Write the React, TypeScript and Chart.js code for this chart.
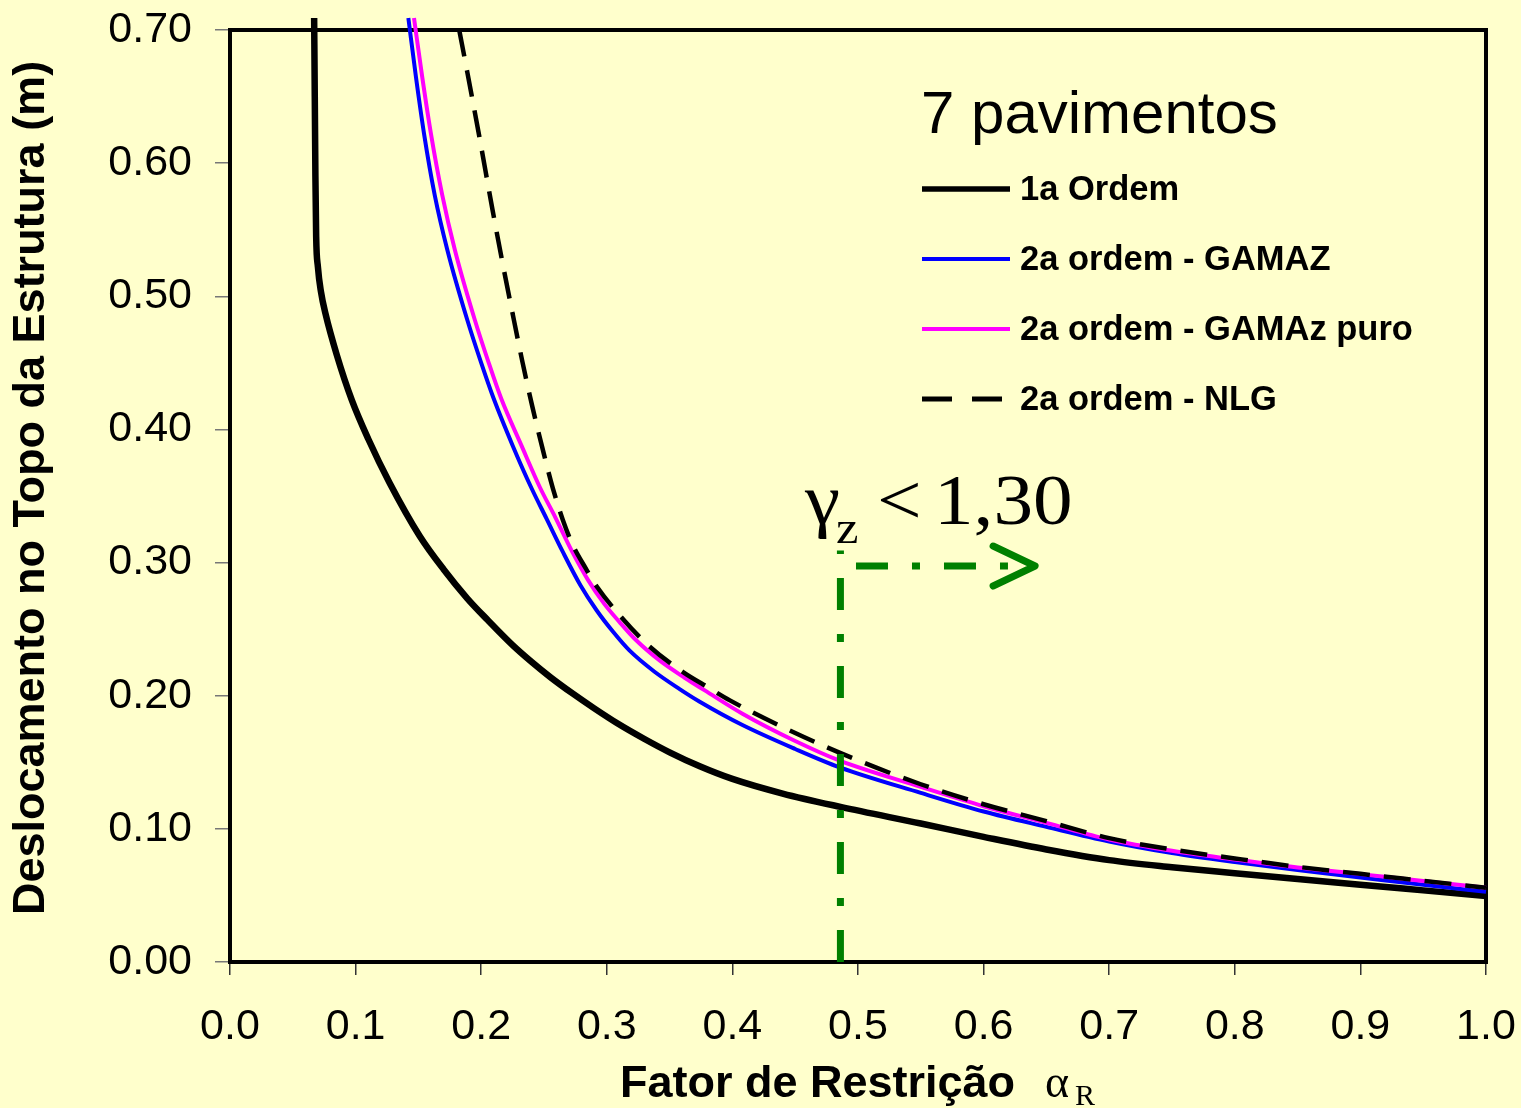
import React, { useEffect, useRef } from "react";
import { Chart, registerables } from "chart.js";

Chart.register(...registerables);

const BG = "#FFFFCC";

// ---- data (x = fator de restrição αR, y = deslocamento no topo em m) ----
const ordem1X = [0.067, 0.0675, 0.068, 0.0686, 0.07, 0.0725, 0.076, 0.085, 0.097, 0.11, 0.127, 0.151, 0.17, 0.189, 0.205, 0.225, 0.24, 0.255, 0.273, 0.29, 0.308, 0.33, 0.35, 0.374, 0.4, 0.44, 0.486, 0.55, 0.6, 0.65, 0.7, 0.75, 0.8, 0.85, 0.9, 0.95, 1.0];
const ordem1Y = [0.709, 0.65, 0.59, 0.545, 0.522, 0.503, 0.487, 0.456, 0.422, 0.393, 0.36, 0.32, 0.295, 0.273, 0.257, 0.238, 0.2255, 0.214, 0.2015, 0.1905, 0.1795, 0.1675, 0.1575, 0.147, 0.1375, 0.1265, 0.1165, 0.104, 0.094, 0.0845, 0.0765, 0.0712, 0.0667, 0.0623, 0.058, 0.0538, 0.0496];

const gamazX = [0.142, 0.148, 0.1545, 0.163, 0.173, 0.189, 0.2, 0.21, 0.225, 0.24, 0.252, 0.265, 0.279, 0.292, 0.305, 0.318, 0.338, 0.358, 0.374, 0.408, 0.45, 0.486, 0.55, 0.6, 0.65, 0.7, 0.75, 0.8, 0.85, 0.9, 0.95, 1.0];
const gamazY = [0.709, 0.665, 0.622, 0.576, 0.535, 0.482, 0.45, 0.423, 0.388, 0.356, 0.333, 0.308, 0.283, 0.264, 0.248, 0.234, 0.218, 0.205, 0.1955, 0.178, 0.16, 0.146, 0.127, 0.113, 0.1015, 0.0905, 0.0818, 0.075, 0.069, 0.0635, 0.058, 0.0528];

const gamazPuroX = [0.1465, 0.153, 0.16, 0.169, 0.179, 0.195, 0.206, 0.216, 0.232, 0.247, 0.259, 0.272, 0.285, 0.298, 0.31, 0.323, 0.342, 0.362, 0.378, 0.408, 0.45, 0.486, 0.55, 0.6, 0.65, 0.7, 0.75, 0.8, 0.85, 0.9, 0.95, 1.0];
const gamazPuroY = [0.709, 0.665, 0.622, 0.576, 0.535, 0.482, 0.45, 0.423, 0.388, 0.356, 0.334, 0.309, 0.287, 0.269, 0.2555, 0.242, 0.2265, 0.2135, 0.204, 0.1865, 0.166, 0.151, 0.1315, 0.117, 0.1045, 0.092, 0.0835, 0.077, 0.071, 0.066, 0.0608, 0.0558];

const nlgX = [0.1825, 0.189, 0.1985, 0.209, 0.217, 0.225, 0.233, 0.241, 0.249, 0.257, 0.265, 0.273, 0.283, 0.292, 0.313, 0.334, 0.361, 0.382, 0.398, 0.45, 0.5, 0.55, 0.6, 0.65, 0.7, 0.75, 0.8, 0.85, 0.9, 0.95, 1.0];
const nlgY = [0.7, 0.668, 0.62, 0.565, 0.525, 0.487, 0.45, 0.416, 0.385, 0.356, 0.332, 0.313, 0.296, 0.282, 0.2575, 0.237, 0.2175, 0.2055, 0.1965, 0.172, 0.1515, 0.1335, 0.1185, 0.1058, 0.093, 0.0845, 0.0778, 0.0715, 0.0662, 0.061, 0.0558];

const seriesLabels = ["1a Ordem", "2a ordem - GAMAZ", "2a ordem - GAMAz puro", "2a ordem - NLG"];

const chartTitle = "7 pavimentos";
const xAxisTitle = "Fator de Restrição";
const xAxisSymbol = "α";
const xAxisSub = "R";
const yAxisTitle = "Deslocamento no Topo da Estrutura (m)";

const xMin = 0;
const xMax = 1.0;
const xStep = 0.1;
const yMin = 0;
const yMax = 0.7;
const yStep = 0.1;

// annotation (γz < 1,30 limit)
const limitX = 0.486;
const limitTopY = 0.309;
const arrowY = 0.2974;
const arrowStartX = 0.4984;
const arrowEndX = 0.6194;
const arrowTipX = 0.641;
const limitSymbol = "γ";
const limitSub = "z";
const limitRel = "<";
const limitValue = "1,30";

const pts = (xs: number[], ys: number[]) => xs.map((x, i) => ({ x, y: ys[i] }));

const extrasPlugin = {
  id: "extras",
  beforeDraw(chart: any) {
    const { ctx, width, height } = chart;
    ctx.save();
    ctx.fillStyle = BG;
    ctx.fillRect(0, 0, width, height);
    ctx.restore();
  },
  beforeDatasetsDraw(chart: any) {
    const { ctx, chartArea: a } = chart;
    ctx.save();
    ctx.strokeStyle = "#000";
    ctx.lineWidth = 4;
    ctx.strokeRect(a.left, a.top, a.right - a.left, a.bottom - a.top);
    ctx.restore();
  },
  afterDraw(chart: any) {
    const { ctx } = chart;
    const xs = chart.scales.x;
    const ys = chart.scales.y;
    ctx.save();

    // green dash-dot limit line
    const green = "#008000";
    ctx.strokeStyle = green;
    ctx.lineWidth = 7;
    ctx.lineCap = "butt";
    ctx.setLineDash([32, 24, 8, 24]);
    const lx = xs.getPixelForValue(limitX);
    ctx.beginPath();
    ctx.moveTo(lx, ys.getPixelForValue(0));
    ctx.lineTo(lx, ys.getPixelForValue(limitTopY));
    ctx.stroke();
    const ay = ys.getPixelForValue(arrowY);
    ctx.beginPath();
    ctx.moveTo(xs.getPixelForValue(arrowStartX), ay);
    ctx.lineTo(xs.getPixelForValue(arrowEndX), ay);
    ctx.stroke();
    ctx.setLineDash([]);
    ctx.lineCap = "round";
    ctx.lineJoin = "round";
    const tx = xs.getPixelForValue(arrowTipX);
    ctx.beginPath();
    ctx.moveTo(tx - 42, ay - 20);
    ctx.lineTo(tx, ay);
    ctx.lineTo(tx - 42, ay + 20);
    ctx.stroke();

    // γz < 1,30 text
    ctx.fillStyle = "#000";
    ctx.textBaseline = "alphabetic";
    ctx.textAlign = "left";
    const drawStretched = (text: string, x: number, y: number, font: string, sx: number) => {
      ctx.save();
      ctx.translate(x, y);
      ctx.scale(sx, 1);
      ctx.font = font;
      ctx.fillText(text, 0, 0);
      ctx.restore();
    };
    drawStretched(limitSymbol, 805, 524, "72px 'Liberation Serif'", 1.1);
    drawStretched(limitSub, 836, 543, "46px 'Liberation Serif'", 1.1);
    drawStretched(limitRel, 877, 524, "72px 'Liberation Serif'", 1.1);
    drawStretched(limitValue, 934, 524, "72px 'Liberation Serif'", 1.1);

    // title
    ctx.font = "60px 'Liberation Sans'";
    ctx.fillText(chartTitle, 921, 133);

    // legend
    const lx0 = 922;
    const lx1 = 1010;
    chart.data.datasets.forEach((ds: any, i: number) => {
      const y = 189 + i * 70;
      const dashed = ds.borderDash && ds.borderDash.length;
      ctx.save();
      ctx.strokeStyle = ds.borderColor;
      ctx.lineWidth = ds.legendWidth;
      ctx.lineCap = "butt";
      ctx.setLineDash(dashed ? [30, 20] : []);
      ctx.beginPath();
      ctx.moveTo(lx0, y);
      ctx.lineTo(dashed ? 1002 : lx1, y);
      ctx.stroke();
      ctx.restore();
      ctx.font = "bold 34.5px 'Liberation Sans'";
      ctx.fillStyle = "#000";
      ctx.textBaseline = "middle";
      ctx.fillText(ds.label, 1020, y + 1);
    });

    // axis titles
    ctx.textBaseline = "alphabetic";
    ctx.font = "bold 45px 'Liberation Sans'";
    ctx.fillText(xAxisTitle, 620, 1097);
    ctx.font = "46px 'Liberation Serif'";
    ctx.fillText(xAxisSymbol, 1045, 1097);
    ctx.font = "30px 'Liberation Serif'";
    ctx.fillText(xAxisSub, 1075, 1105);

    ctx.save();
    ctx.translate(32, 488);
    ctx.rotate(-Math.PI / 2);
    ctx.font = "bold 45px 'Liberation Sans'";
    ctx.textAlign = "center";
    ctx.textBaseline = "middle";
    ctx.fillText(yAxisTitle, 0, 0);
    ctx.restore();

    ctx.restore();
  },
};

export default function App() {
  const ref = useRef<HTMLCanvasElement | null>(null);

  useEffect(() => {
    if (!ref.current) return;
    const common = {
      pointRadius: 0,
      cubicInterpolationMode: "monotone" as const,
      clip: false as const,
      fill: false,
    };
    const chart = new Chart(ref.current, {
      type: "line",
      data: {
        datasets: [
          { ...common, label: seriesLabels[0], data: pts(ordem1X, ordem1Y), borderColor: "#000000", borderWidth: 6.5, legendWidth: 5.5, order: 4 } as any,
          { ...common, label: seriesLabels[1], data: pts(gamazX, gamazY), borderColor: "#0000FF", borderWidth: 4, legendWidth: 4, order: 3 } as any,
          { ...common, label: seriesLabels[2], data: pts(gamazPuroX, gamazPuroY), borderColor: "#FF00FF", borderWidth: 4, legendWidth: 4, order: 2 } as any,
          { ...common, label: seriesLabels[3], data: pts(nlgX, nlgY), borderColor: "#000000", borderWidth: 4.5, borderDash: [27, 14], legendWidth: 5, order: 1 } as any,
        ],
      },
      options: {
        responsive: false,
        devicePixelRatio: 1,
        animation: false,
        layout: { padding: { top: 30, right: 35, left: 0, bottom: 0 } },
        plugins: {
          legend: { display: false },
          tooltip: { enabled: false },
          title: { display: false },
        },
        scales: {
          x: {
            type: "linear",
            min: xMin,
            max: xMax,
            border: { display: false },
            grid: { drawOnChartArea: false, drawTicks: true, tickLength: 13, tickColor: "#333", lineWidth: 1.5 },
            ticks: {
              stepSize: xStep,
              color: "#000",
              padding: 26,
              maxRotation: 0,
              autoSkip: false,
              font: { family: "'Liberation Sans'", size: 43 },
              callback: (v: any) => Number(v).toFixed(1),
            },
            afterFit: (s: any) => {
              s.height = 146;
              s.paddingLeft = 0;
              s.paddingRight = 0;
            },
          },
          y: {
            type: "linear",
            min: yMin,
            max: yMax,
            border: { display: false },
            grid: { drawOnChartArea: false, drawTicks: true, tickLength: 15, tickColor: "#777", lineWidth: 1.5 },
            ticks: {
              stepSize: yStep,
              color: "#000",
              padding: 23,
              autoSkip: false,
              font: { family: "'Liberation Sans'", size: 43 },
              callback: (v: any) => Number(v).toFixed(2),
            },
            afterFit: (s: any) => {
              s.width = 230;
              s.paddingTop = 0;
              s.paddingBottom = 0;
            },
          },
        },
      } as any,
      plugins: [extrasPlugin],
    });
    return () => chart.destroy();
  }, []);

  return (
    <div style={{ position: "fixed", left: 0, top: 0, width: 1521, height: 1108, background: BG }}>
      <canvas ref={ref} width={1521} height={1108} style={{ display: "block", width: 1521, height: 1108 }} />
    </div>
  );
}
